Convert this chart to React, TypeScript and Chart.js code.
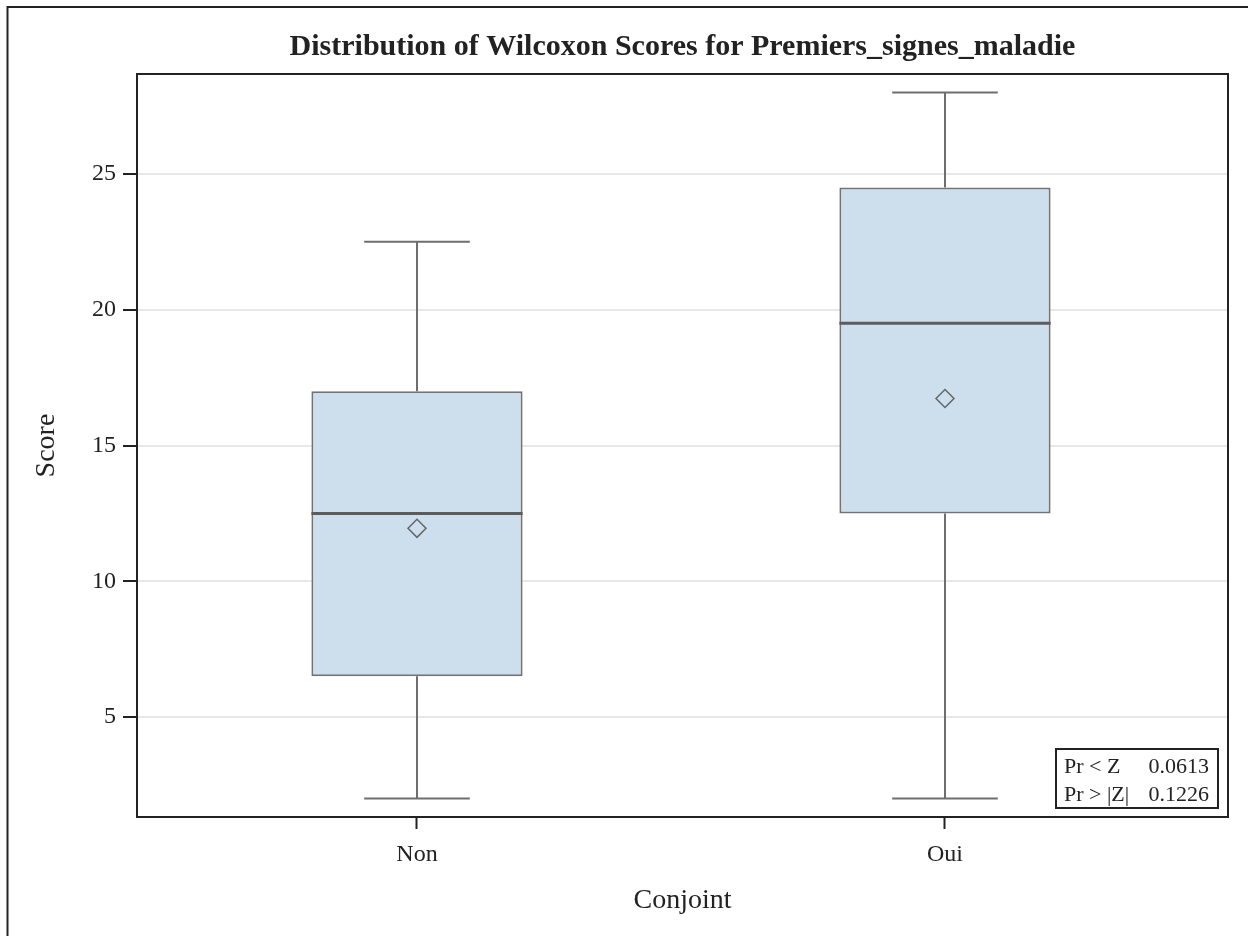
import React, { useEffect, useRef } from "react";
import { Chart, registerables } from "chart.js";

Chart.register(...registerables);

const TITLE = "Distribution of Wilcoxon Scores for Premiers_signes_maladie";
const X_TITLE = "Conjoint";
const Y_TITLE = "Score";
const CATEGORIES = ["Non", "Oui"];
const MIN_VALUES = [2, 2];
const Q1_VALUES = [6.5, 12.5];
const MEDIAN_VALUES = [12.5, 19.5];
const Q3_VALUES = [17, 24.5];
const MAX_VALUES = [22.5, 28];
const MEAN_VALUES = [11.95, 16.73];
const Y_TICKS = [5, 10, 15, 20, 25];
const STAT_LABELS = ["Pr < Z", "Pr > |Z|"];
const STAT_VALUES = ["0.0613", "0.1226"];

const BOX_HALF = 0.2;
const CAP_HALF = 0.1;
const FONT = "'Liberation Serif', 'Times New Roman', serif";
const INK = "#222222";

const framePlugin = {
  id: "framePlugin",
  afterDraw(chart: any) {
    const { ctx, chartArea } = chart;
    ctx.save();
    // outer graph frame (top and left visible)
    ctx.strokeStyle = INK;
    ctx.lineWidth = 2;
    ctx.beginPath();
    ctx.moveTo(7.5, 936);
    ctx.lineTo(7.5, 7);
    ctx.lineTo(1248, 7);
    ctx.stroke();
    // plot frame
    ctx.strokeRect(chartArea.left, chartArea.top, chartArea.right - chartArea.left, chartArea.bottom - chartArea.top);
    // inset statistics table
    const w = 162;
    const h = 59;
    const bx = chartArea.right - 10 - w;
    const by = chartArea.bottom - 9 - h;
    ctx.fillStyle = "#ffffff";
    ctx.fillRect(bx, by, w, h);
    ctx.strokeStyle = INK;
    ctx.lineWidth = 2;
    ctx.strokeRect(bx, by, w, h);
    ctx.font = `22px ${FONT}`;
    ctx.fillStyle = INK;
    ctx.textBaseline = "middle";
    STAT_LABELS.forEach((lab, i) => {
      const y = by + 18 + i * 28;
      ctx.textAlign = "left";
      ctx.fillText(lab, bx + 8, y);
      ctx.textAlign = "right";
      ctx.fillText(STAT_VALUES[i], bx + w - 9, y);
    });
    ctx.restore();
  },
};

export default function App() {
  const canvasRef = useRef<HTMLCanvasElement | null>(null);

  useEffect(() => {
    const canvas = canvasRef.current;
    if (!canvas) return;

    const boxData = CATEGORIES.map((_, i) => ({ x: i, y: [Q1_VALUES[i], Q3_VALUES[i]] }));
    const whiskerData: any[] = [];
    const medianData: any[] = [];
    CATEGORIES.forEach((_, i) => {
      whiskerData.push(
        { x: i, y: MIN_VALUES[i] },
        { x: i, y: Q1_VALUES[i] },
        { x: i, y: null },
        { x: i, y: Q3_VALUES[i] },
        { x: i, y: MAX_VALUES[i] },
        { x: i, y: null },
        { x: i - CAP_HALF, y: MIN_VALUES[i] },
        { x: i + CAP_HALF, y: MIN_VALUES[i] },
        { x: i, y: null },
        { x: i - CAP_HALF, y: MAX_VALUES[i] },
        { x: i + CAP_HALF, y: MAX_VALUES[i] },
        { x: i, y: null }
      );
      medianData.push(
        { x: i - BOX_HALF, y: MEDIAN_VALUES[i] },
        { x: i + BOX_HALF, y: MEDIAN_VALUES[i] },
        { x: i, y: null }
      );
    });
    const meanData = CATEGORIES.map((_, i) => ({ x: i, y: MEAN_VALUES[i] }));

    const chart = new Chart(canvas, {
      type: "bar",
      data: {
        datasets: [
          {
            type: "bar",
            data: boxData as any,
            backgroundColor: "#cddeed",
            borderColor: "#737373",
            borderWidth: 2,
            borderSkipped: false,
            barPercentage: BOX_HALF * 2,
            categoryPercentage: 1,
            grouped: false,
            order: 4,
          } as any,
          {
            type: "line",
            data: whiskerData,
            borderColor: "#6e6e6e",
            borderWidth: 2,
            pointRadius: 0,
            spanGaps: false,
            fill: false,
            order: 3,
          } as any,
          {
            type: "line",
            data: medianData,
            borderColor: "#5c5c5c",
            borderWidth: 3,
            pointRadius: 0,
            spanGaps: false,
            fill: false,
            order: 2,
          } as any,
          {
            type: "line",
            data: meanData,
            showLine: false,
            pointStyle: "rectRot",
            pointRadius: 9,
            pointBorderColor: "#666666",
            pointBackgroundColor: "rgba(0,0,0,0)",
            pointBorderWidth: 1.5,
            order: 1,
          } as any,
        ],
      },
      options: {
        responsive: false,
        animation: false,
        devicePixelRatio: 1,
        layout: { padding: { left: 0, right: 20, top: 0, bottom: 0 } },
        plugins: {
          legend: { display: false },
          tooltip: { enabled: false },
          title: {
            display: true,
            text: TITLE,
            fullSize: false,
            color: INK,
            font: { family: FONT, size: 30, weight: "bold", lineHeight: 1.2 },
            padding: { top: 29, bottom: 9 },
          },
        },
        scales: {
          x: {
            type: "linear",
            offset: false,
            min: -0.5303,
            max: 1.536,
            afterBuildTicks: (s: any) => {
              s.ticks = CATEGORIES.map((_, i) => ({ value: i }));
            },
            afterFit: (s: any) => {
              s.height = 119;
            },
            ticks: {
              callback: (v: any) => CATEGORIES[Math.round(v)] ?? "",
              color: INK,
              font: { family: FONT, size: 24 },
              padding: 11,
              maxRotation: 0,
              autoSkip: false,
            },
            grid: {
              offset: false,
              drawOnChartArea: false,
              drawTicks: true,
              tickLength: 12,
              tickColor: INK,
              tickWidth: 2,
            },
            border: { color: INK, width: 2 },
            title: {
              display: true,
              text: X_TITLE,
              color: INK,
              font: { family: FONT, size: 28, lineHeight: 1.2 },
              padding: { top: 0, bottom: 19 },
            },
          },
          y: {
            type: "linear",
            min: 1.32,
            max: 28.68,
            afterBuildTicks: (s: any) => {
              s.ticks = Y_TICKS.map((v) => ({ value: v }));
            },
            afterFit: (s: any) => {
              s.width = 137;
            },
            ticks: {
              color: INK,
              font: { family: FONT, size: 24 },
              padding: 7,
            },
            grid: {
              color: "#e8e8e8",
              lineWidth: 2,
              drawTicks: true,
              tickLength: 14,
              tickColor: INK,
              tickWidth: 2,
            },
            border: { color: INK, width: 2 },
            title: {
              display: true,
              text: Y_TITLE,
              color: INK,
              font: { family: FONT, size: 28, lineHeight: 1.2 },
              padding: { top: 30, bottom: 0 },
            },
          },
        },
      },
      plugins: [framePlugin],
    });

    return () => chart.destroy();
  }, []);

  return (
    <div style={{ position: "fixed", left: 0, top: 0, width: 1248, height: 936, background: "#fff" }}>
      <canvas ref={canvasRef} width={1248} height={936} style={{ width: 1248, height: 936 }} />
    </div>
  );
}
